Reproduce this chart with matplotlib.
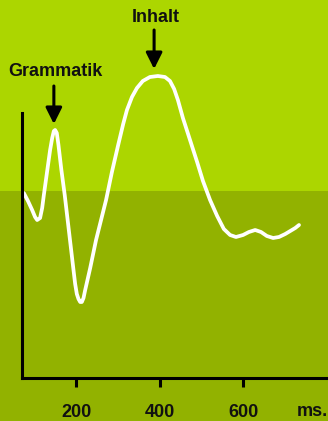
import matplotlib.pyplot as plt
from matplotlib.patches import Rectangle

# ERP curve: time in ms, amplitude in arbitrary units
time_ms = [75, 85, 95, 102, 107, 114, 119, 123, 128, 133, 138, 143, 147, 150, 154, 158,
           165, 173, 180, 187, 194, 198, 202, 206, 210, 214, 218, 222, 234, 248, 260,
           272, 286, 301, 313, 322, 334, 346, 360, 377, 396, 413, 425, 435, 444, 456, 473,
           490, 504, 521, 538, 554, 569, 583, 600, 614, 629, 643, 657, 672, 686, 701, 713,
           725, 734]
amplitude = [185, 177, 168, 161, 158, 160, 170, 183, 198, 213, 228, 240, 247, 248, 245, 233,
             208, 183, 158, 133, 108, 94, 84, 79, 76, 76, 80, 88, 110, 138, 158,
             178, 206, 233, 254, 268, 281, 290, 297, 301, 302, 301, 297, 289, 278, 260, 238,
             216, 197, 178, 162, 149, 143, 141, 143, 146, 148, 146, 142, 140, 141, 144, 147,
             150, 153]

tick_pos = [200, 400, 600]
tick_labels = ['200', '400', '600']
unit_label = 'ms.'

labels = ['Grammatik', 'Inhalt']
label_time = [150, 392]
arrow_time = [147, 387]

light = '#acd600'
dark = '#92b200'

plt.rcParams['font.family'] = ['Liberation Sans', 'DejaVu Sans']
plt.rcParams['font.weight'] = 'bold'

fig = plt.figure(figsize=(3.28, 4.21), dpi=100)
fig.patch.set_facecolor(dark)
fig.add_artist(Rectangle((0, 230 / 421), 1, 191 / 421, transform=fig.transFigure,
                         facecolor=light, edgecolor='none', zorder=-1))

ax = fig.add_axes([22 / 328, 43 / 421, 305 / 328, 265 / 421])
ax.set_facecolor('none')
ax.set_xlim(70.7, 801)
ax.set_ylim(0, 265)

ax.plot(time_ms, amplitude, color='white', lw=2.7, solid_joinstyle='round',
        solid_capstyle='round', clip_on=False)

for sp in ['top', 'right']:
    ax.spines[sp].set_visible(False)
for sp in ['left', 'bottom']:
    ax.spines[sp].set_linewidth(2.2)
    ax.spines[sp].set_color('black')
    ax.spines[sp].set_capstyle('projecting')

ax.set_yticks([])
ax.set_xticks(tick_pos)
ax.set_xticklabels(tick_labels, fontsize=13, fontweight='bold', color='#111111')
ax.tick_params(axis='x', length=6.5, width=2.2, pad=12, color='black')
ax.text(765, -0.128, unit_label, transform=ax.get_xaxis_transform(), ha='center',
        va='center', fontsize=13, fontweight='bold', color='#111111')

# annotations with down arrows
ax.text(label_time[0], 306, labels[0], ha='center', va='center', fontsize=13,
        fontweight='bold', color='#111111', clip_on=False)
ax.annotate('', xy=(arrow_time[0], 254), xytext=(arrow_time[0], 292),
            arrowprops=dict(arrowstyle='-|>,head_length=0.7,head_width=0.35', lw=2.2,
                            color='black', shrinkA=0, shrinkB=0, mutation_scale=14),
            annotation_clip=False)
ax.text(label_time[1], 361, labels[1], ha='center', va='center', fontsize=13,
        fontweight='bold', color='#111111', clip_on=False)
ax.annotate('', xy=(arrow_time[1], 309), xytext=(arrow_time[1], 348),
            arrowprops=dict(arrowstyle='-|>,head_length=0.7,head_width=0.35', lw=2.2,
                            color='black', shrinkA=0, shrinkB=0, mutation_scale=14),
            annotation_clip=False)

fig.savefig('out.png', dpi=100)
